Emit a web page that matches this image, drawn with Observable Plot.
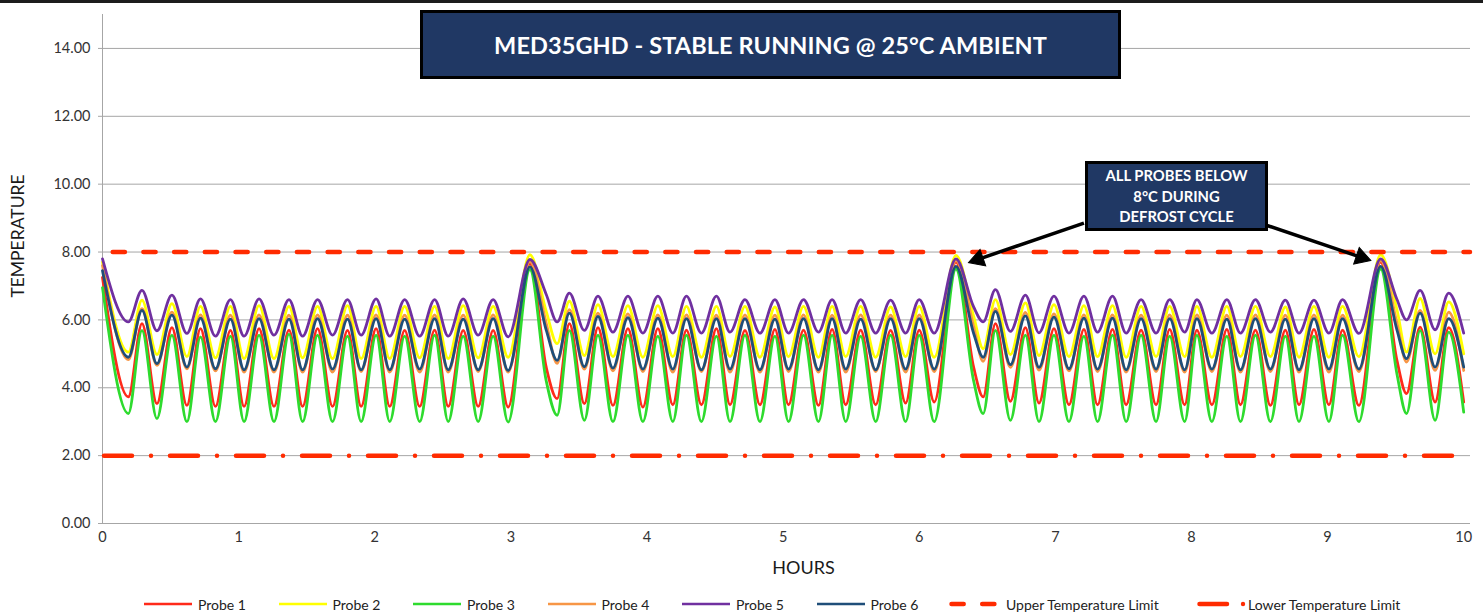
<!DOCTYPE html>
<html><head><meta charset="utf-8">
<script src="https://cdn.jsdelivr.net/npm/d3@7"></script>
<script src="https://cdn.jsdelivr.net/npm/@observablehq/plot@0.6"></script>
<style>
html,body{margin:0;padding:0;background:#fff;}
#wrap{position:relative;width:1483px;height:613px;overflow:hidden;font-family:Lato,"Open Sans",sans-serif;}
#topbar{position:absolute;left:0;top:0;width:1483px;height:3px;background:#1c1c1c;}
.box{position:absolute;background:#203864;border:3px solid #000;box-sizing:border-box;color:#fff;font-weight:700;display:flex;align-items:center;justify-content:center;text-align:center;}
#title{left:420px;top:10px;width:701px;height:69px;font-size:23.5px;letter-spacing:0.1px;}
#note{left:1085px;top:161px;width:183px;height:70px;font-size:14.8px;line-height:20.5px;}
.lg{position:absolute;top:595px;height:18px;display:flex;align-items:center;font-size:14px;color:#222;white-space:nowrap;}
.lg svg{display:block;}
</style>
</head><body>
<div id="wrap">
  <div id="chart"></div>
  <div id="topbar"></div>
  <div class="box" id="title">MED35GHD - STABLE RUNNING @ 25°C AMBIENT</div>
  <div class="box" id="note"><div>ALL PROBES BELOW<br>8°C DURING<br>DEFROST CYCLE</div></div>
</div>
<script>
// ---- data ----
const hours = [
  0, 0.19, 0.29, 0.40, 0.51, 0.62, 0.72, 0.83, 0.94, 1.04, 1.15, 1.26, 1.37, 1.47, 1.58, 1.69, 1.80, 1.90, 2.01, 2.11, 2.22, 2.33, 2.44, 2.54, 2.65, 2.76, 2.87, 2.98, 3.14,
  3.26, 3.34, 3.43, 3.54, 3.64, 3.75, 3.86, 3.97, 4.08, 4.19, 4.29, 4.40, 4.51, 4.61, 4.72, 4.83, 4.94, 5.04, 5.15, 5.26, 5.36, 5.46, 5.57, 5.68, 5.79, 5.90, 6.00, 6.11, 6.27,
  6.40, 6.47, 6.56, 6.67, 6.78, 6.88, 6.99, 7.10, 7.21, 7.31, 7.42, 7.52, 7.63, 7.74, 7.84, 7.95, 8.04, 8.15, 8.26, 8.36, 8.47, 8.58, 8.69, 8.79, 8.90, 9.01, 9.11, 9.23, 9.39,
  9.51, 9.58, 9.68, 9.79, 9.89, 10.0
];
const probe1 = [
  7.25, 3.73, 5.89, 3.53, 5.77, 3.48, 5.74, 3.45, 5.69, 3.45, 5.74, 3.45, 5.70, 3.45, 5.74, 3.45, 5.69, 3.45, 5.74, 3.45, 5.69, 3.45, 5.70, 3.45, 5.69, 3.45, 5.69, 3.43, 7.66,
  4.60, 3.68, 5.89, 3.53, 5.77, 3.48, 5.74, 3.43, 5.74, 3.50, 5.70, 3.50, 5.74, 3.50, 5.69, 3.50, 5.72, 3.50, 5.70, 3.48, 5.72, 3.50, 5.70, 3.50, 5.69, 3.55, 5.70, 3.58, 7.70,
  4.60, 3.73, 5.89, 3.60, 5.77, 3.55, 5.74, 3.50, 5.72, 3.50, 5.72, 3.50, 5.70, 3.50, 5.72, 3.50, 5.70, 3.50, 5.72, 3.50, 5.70, 3.48, 5.70, 3.50, 5.72, 3.50, 5.70, 3.48, 7.70,
  4.80, 3.83, 5.79, 3.58, 5.77, 3.58
];
const probe2 = [
  7.70, 5.05, 6.58, 4.98, 6.48, 4.92, 6.40, 4.88, 6.40, 4.86, 6.42, 4.86, 6.40, 4.88, 6.40, 4.86, 6.42, 4.86, 6.40, 4.86, 6.40, 4.88, 6.40, 4.86, 6.42, 4.88, 6.40, 4.90, 7.92,
  6.25, 5.30, 6.55, 4.95, 6.45, 4.92, 6.42, 4.90, 6.42, 4.92, 6.40, 4.90, 6.40, 4.92, 6.40, 4.90, 6.38, 4.92, 6.40, 4.90, 6.40, 4.92, 6.40, 4.90, 6.38, 4.92, 6.40, 4.90, 7.90,
  6.10, 5.15, 6.60, 4.98, 6.50, 4.95, 6.45, 4.92, 6.42, 4.92, 6.42, 4.90, 6.40, 4.92, 6.40, 4.92, 6.40, 4.90, 6.40, 4.92, 6.40, 4.92, 6.38, 4.90, 6.40, 4.90, 6.40, 4.92, 7.92,
  6.30, 5.05, 6.63, 5.00, 6.53, 5.00
];
const probe3 = [
  6.95, 3.24, 5.69, 3.09, 5.55, 3.00, 5.50, 3.00, 5.52, 3.00, 5.55, 3.00, 5.58, 3.00, 5.55, 3.00, 5.52, 3.00, 5.55, 3.00, 5.52, 3.00, 5.55, 3.00, 5.52, 3.00, 5.52, 2.99, 7.48,
  4.20, 3.19, 5.69, 3.04, 5.55, 3.00, 5.55, 3.00, 5.52, 3.00, 5.55, 3.00, 5.52, 3.00, 5.55, 3.00, 5.52, 3.00, 5.55, 3.00, 5.55, 3.00, 5.52, 3.00, 5.55, 3.00, 5.55, 3.00, 7.50,
  4.20, 3.24, 5.69, 3.04, 5.55, 3.00, 5.55, 3.00, 5.52, 3.00, 5.55, 3.00, 5.55, 3.00, 5.52, 3.00, 5.55, 3.00, 5.52, 3.00, 5.55, 3.00, 5.52, 3.00, 5.52, 3.00, 5.55, 3.00, 7.50,
  4.40, 3.24, 5.69, 3.04, 5.64, 3.28
];
const probe4 = [
  7.60, 4.83, 6.33, 4.66, 6.23, 4.56, 6.15, 4.50, 6.14, 4.46, 6.15, 4.46, 6.14, 4.46, 6.15, 4.46, 6.14, 4.48, 6.15, 4.46, 6.14, 4.46, 6.15, 4.46, 6.14, 4.48, 6.15, 4.46, 7.72,
  5.90, 4.72, 6.30, 4.55, 6.20, 4.50, 6.18, 4.48, 6.15, 4.46, 6.15, 4.48, 6.14, 4.46, 6.15, 4.46, 6.14, 4.48, 6.15, 4.46, 6.14, 4.46, 6.15, 4.48, 6.14, 4.46, 6.15, 4.48, 7.75,
  5.80, 4.78, 6.33, 4.60, 6.22, 4.52, 6.18, 4.50, 6.15, 4.48, 6.15, 4.46, 6.14, 4.48, 6.15, 4.46, 6.15, 4.48, 6.14, 4.46, 6.15, 4.48, 6.14, 4.46, 6.15, 4.46, 6.14, 4.48, 7.75,
  5.90, 4.76, 6.28, 4.51, 6.23, 4.51
];
const probe5 = [
  7.80, 5.94, 6.87, 5.68, 6.73, 5.60, 6.62, 5.52, 6.60, 5.52, 6.62, 5.55, 6.60, 5.52, 6.60, 5.55, 6.60, 5.55, 6.62, 5.52, 6.60, 5.52, 6.60, 5.52, 6.62, 5.55, 6.60, 5.50, 7.78,
  6.75, 5.94, 6.79, 5.69, 6.70, 5.64, 6.70, 5.61, 6.70, 5.61, 6.70, 5.61, 6.70, 5.64, 6.60, 5.61, 6.60, 5.61, 6.60, 5.64, 6.60, 5.61, 6.60, 5.61, 6.58, 5.61, 6.60, 5.61, 7.80,
  6.38, 5.94, 6.89, 5.66, 6.73, 5.62, 6.70, 5.61, 6.70, 5.64, 6.70, 5.61, 6.60, 5.61, 6.60, 5.64, 6.60, 5.61, 6.60, 5.61, 6.60, 5.64, 6.58, 5.61, 6.58, 5.61, 6.60, 5.60, 7.80,
  6.60, 6.00, 6.87, 5.71, 6.79, 5.61
];
const probe6 = [
  7.45, 4.90, 6.28, 4.71, 6.14, 4.61, 6.05, 4.56, 6.02, 4.53, 6.04, 4.53, 6.02, 4.53, 6.04, 4.55, 6.02, 4.53, 6.04, 4.53, 6.02, 4.55, 6.04, 4.53, 6.02, 4.53, 6.04, 4.51, 7.56,
  5.70, 4.81, 6.20, 4.62, 6.10, 4.58, 6.07, 4.55, 6.05, 4.55, 6.04, 4.53, 6.04, 4.55, 6.04, 4.53, 6.02, 4.55, 6.04, 4.53, 6.04, 4.55, 6.02, 4.53, 6.04, 4.55, 6.04, 4.55, 7.58,
  5.60, 4.90, 6.25, 4.68, 6.12, 4.60, 6.08, 4.56, 6.05, 4.55, 6.05, 4.53, 6.04, 4.55, 6.04, 4.53, 6.04, 4.55, 6.02, 4.53, 6.04, 4.55, 6.02, 4.53, 6.04, 4.55, 6.04, 4.55, 7.58,
  5.70, 4.86, 6.20, 4.61, 6.04, 4.61
];
const probeNames = ["Probe 1", "Probe 2", "Probe 3", "Probe 4", "Probe 5", "Probe 6"];
const upperLimit = 8.00;
const lowerLimit = 2.00;
const limitNames = ["Upper Temperature Limit", "Lower Temperature Limit"];
const yTicks = [0, 2, 4, 6, 8, 10, 12, 14];
const xTicks = [0, 1, 2, 3, 4, 5, 6, 7, 8, 9, 10];
const arrowLinks = [
  {x1: 7.21, y1: 8.85, x2: 6.37, y2: 7.70},
  {x1: 8.55, y1: 8.79, x2: 9.31, y2: 7.76}
];

// ---- styles / layout ----
const probeColors = ["#FF2A1A", "#FFFF00", "#2EDB2E", "#F79646", "#7030A0", "#1F4E79"];
const limitColor = "#FF2B00";
const gridColor = "#A6A6A6";
const W = 1483, H = 595, ML = 102, MR = 13, MT = 14, MB = 72;
const xDomain = [0, 10.05], yDomain = [0, 15];
const pxX = (W - ML - MR) / (xDomain[1] - xDomain[0]);
const pxY = (H - MT - MB) / (yDomain[1] - yDomain[0]);

const probes = [probe1, probe2, probe3, probe4, probe5, probe6];
const table = [];
probes.forEach((vals, i) => vals.forEach((v, j) => table.push({t: hours[j], v, probe: probeNames[i]})));

// arrow heads: triangle placed just behind each tip, rotated along the shaft
const headBack = 9; // px
const arrowParts = arrowLinks.map(a => {
  const dx = (a.x2 - a.x1) * pxX, dy = -(a.y2 - a.y1) * pxY;
  const len = Math.hypot(dx, dy);
  const ux = dx / len, uy = dy / len;
  return {
    x1: a.x1, y1: a.y1,
    hx: a.x2 - ux * headBack / pxX, hy: a.y2 + uy * headBack / pxY,
    rot: Math.atan2(dx, -dy) * 180 / Math.PI
  };
});

const chart = Plot.plot({
  width: W, height: H,
  marginLeft: ML, marginRight: MR, marginTop: MT, marginBottom: MB,
  x: {domain: xDomain},
  y: {domain: yDomain},
  style: {fontFamily: "Lato, 'Open Sans', sans-serif", fontSize: "14.5px", color: "#333", background: "#fff", overflow: "visible"},
  marks: [
    Plot.ruleY(yTicks, {stroke: gridColor, strokeWidth: 1}),
    Plot.ruleX([0], {stroke: gridColor, strokeWidth: 1}),
    Plot.axisY({ticks: yTicks, tickFormat: d3.format(".2f"), tickSize: 4, tickPadding: 8, stroke: gridColor, fill: "#333", label: null}),
    Plot.axisX({ticks: xTicks, tickSize: 0, tickPadding: 8, fill: "#333", label: null}),
    ...probeNames.map((name, i) => Plot.line(table.filter(d => d.probe === name), {
      x: "t", y: "v", stroke: probeColors[i], strokeWidth: 2.8, curve: "monotone-x"
    })),
    Plot.ruleY([upperLimit], {stroke: limitColor, strokeWidth: 4.5, strokeDasharray: "12.2,18.5", strokeLinecap: "round", strokeDashoffset: 20}),
    Plot.ruleY([lowerLimit], {stroke: limitColor, strokeWidth: 4.5, strokeDasharray: "28,19,0,19", strokeLinecap: "round", strokeDashoffset: -2}),
    Plot.link(arrowParts, {x1: "x1", y1: "y1", x2: "hx", y2: "hy", stroke: "#000", strokeWidth: 3.5}),
    Plot.dot(arrowParts, {x: "hx", y: "hy", symbol: "triangle", r: 6.5, rotate: "rot", fill: "#000", stroke: "#000", strokeWidth: 1}),
    Plot.text(["TEMPERATURE"], {frameAnchor: "left", dx: -84, dy: -33, rotate: -90, textAnchor: "middle", lineAnchor: "middle", fontSize: 17.5, fill: "#1a1a1a"}),
    Plot.text(["HOURS"], {frameAnchor: "bottom", dx: 17, dy: 45, textAnchor: "middle", lineAnchor: "middle", fontSize: 18, fill: "#1a1a1a"})
  ]
});
document.getElementById("chart").appendChild(chart);

// ---- legend (below the svg) ----
const wrap = document.getElementById("wrap");
function addItem(left, swatchSvg, label, gap) {
  const d = document.createElement("div");
  d.className = "lg";
  d.style.left = left + "px";
  d.innerHTML = swatchSvg + `<span style="margin-left:${gap}px">${label}</span>`;
  wrap.appendChild(d);
}
probeNames.forEach((name, i) => {
  addItem(143 + 134.5 * i, `<svg width="50" height="10"><line x1="1" x2="49" y1="5" y2="5" stroke="${probeColors[i]}" stroke-width="2.6"/></svg>`, name, 5);
});
addItem(949, `<svg width="50" height="10"><line x1="2.5" x2="48" y1="5" y2="5" stroke="${limitColor}" stroke-width="4.5" stroke-linecap="round" stroke-dasharray="12.2,18.5"/></svg>`, limitNames[0], 7);
addItem(1197, `<svg width="50" height="10"><line x1="2.5" x2="30" y1="5" y2="5" stroke="${limitColor}" stroke-width="4.5" stroke-linecap="round"/><circle cx="46" cy="5" r="2.2" fill="${limitColor}"/></svg>`, limitNames[1], 1);
</script>
</body></html>
